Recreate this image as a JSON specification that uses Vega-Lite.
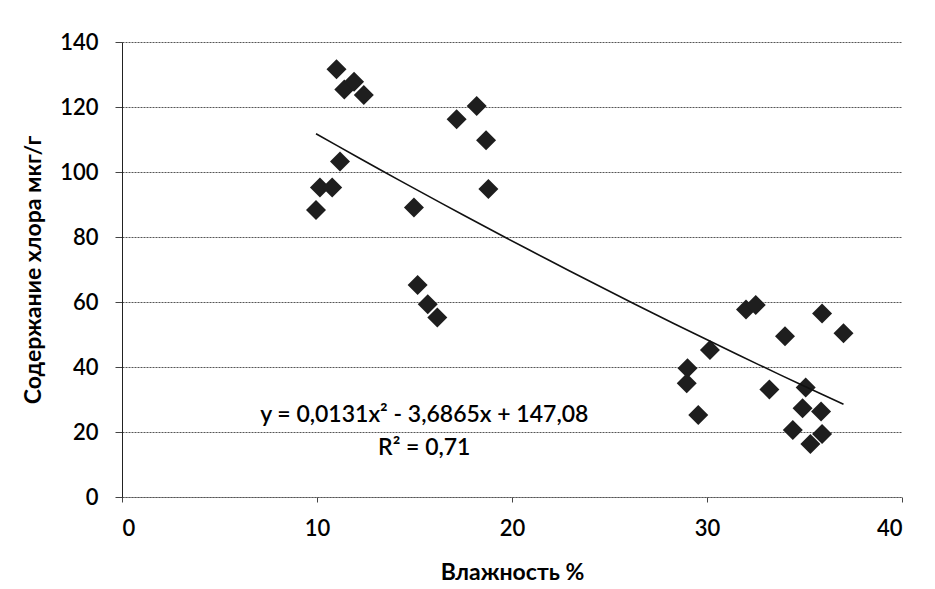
{
  "$schema": "https://vega.github.io/schema/vega-lite/v6.json",
  "autosize": {"type": "none"},
  "padding": {"left": 122, "top": 42, "right": 33, "bottom": 92},
  "width": 780,
  "height": 455,
  "background": "white",
  "config": {
    "view": {"stroke": null},
    "font": "Lato",
    "axis": {
      "labelFont": "Lato",
      "titleFont": "Lato",
      "labelColor": "#000",
      "titleColor": "#000",
      "labelFontSize": 22,
      "labelFontWeight": 600,
      "titleFontSize": 23,
      "titleFontWeight": "bold",
      "gridColor": "#555",
      "gridDash": [2, 1],
      "gridWidth": 1.2,
      "domainColor": "#222",
      "tickColor": "#444"
    }
  },
  "datasets": {
    "pts": [
      {"x": 11.0, "y": 131.6}, {"x": 11.4, "y": 125.4}, {"x": 11.9, "y": 127.8}, {"x": 12.4, "y": 123.7},
      {"x": 17.16, "y": 116.2}, {"x": 18.19, "y": 120.3}, {"x": 18.67, "y": 109.8}, {"x": 11.18, "y": 103.2},
      {"x": 10.15, "y": 95.2}, {"x": 10.78, "y": 95.2}, {"x": 9.95, "y": 88.3}, {"x": 14.97, "y": 89.1},
      {"x": 18.79, "y": 94.8}, {"x": 15.16, "y": 65.2}, {"x": 15.68, "y": 59.3}, {"x": 16.17, "y": 55.2},
      {"x": 32.0, "y": 57.7}, {"x": 32.5, "y": 59.1}, {"x": 35.9, "y": 56.5}, {"x": 34.0, "y": 49.5},
      {"x": 37.0, "y": 50.4}, {"x": 30.15, "y": 45.2}, {"x": 29.0, "y": 39.6}, {"x": 28.96, "y": 35.0},
      {"x": 33.2, "y": 33.1}, {"x": 35.06, "y": 33.7}, {"x": 29.55, "y": 25.2}, {"x": 34.9, "y": 27.3},
      {"x": 35.85, "y": 26.3}, {"x": 34.4, "y": 20.6}, {"x": 35.9, "y": 19.4}, {"x": 35.3, "y": 16.3}
    ],
    "labels": [
      {"x": 15.5, "y": 25.2, "label": "y = 0,0131x² - 3,6865x + 147,08"},
      {"x": 15.5, "y": 15.1, "label": "R² = 0,71"}
    ]
  },
  "layer": [
    {
      "data": {"name": "pts"},
      "mark": {"type": "point", "shape": "diamond", "filled": true, "size": 400, "color": "#1e1e1e", "opacity": 1},
      "encoding": {
        "x": {"field": "x", "type": "quantitative", "scale": {"domain": [0, 40]},
              "axis": {"values": [0, 10, 20, 30, 40], "title": "Влажность %", "grid": false,
                       "domainDash": [2, 1], "domainColor": "#555", "tickSize": 5, "labelPadding": 16, "titlePadding": 22}},
        "y": {"field": "y", "type": "quantitative", "scale": {"domain": [0, 140]},
              "axis": {"values": [0, 20, 40, 60, 80, 100, 120, 140], "title": "Содержание хлора мкг/г",
                       "tickSize": 7, "labelPadding": 17, "titlePadding": 14}}
      }
    },
    {
      "data": {"name": "pts"},
      "transform": [{"regression": "y", "on": "x", "method": "poly", "order": 2}],
      "mark": {"type": "line", "color": "#111", "strokeWidth": 1.6},
      "encoding": {
        "x": {"field": "x", "type": "quantitative"},
        "y": {"field": "y", "type": "quantitative"}
      }
    },
    {
      "data": {"name": "labels"},
      "mark": {"type": "text", "fontSize": 23, "fontWeight": 600, "font": "Lato", "color": "#000", "align": "center", "baseline": "middle"},
      "encoding": {
        "x": {"field": "x", "type": "quantitative"},
        "y": {"field": "y", "type": "quantitative"},
        "text": {"field": "label"}
      }
    }
  ]
}
